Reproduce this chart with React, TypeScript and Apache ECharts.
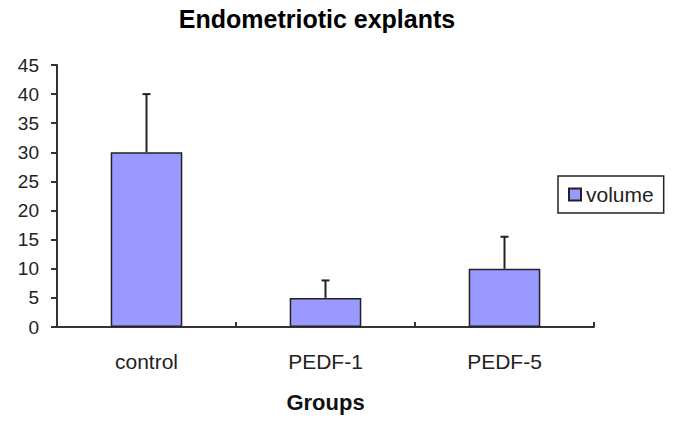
import React, { useEffect, useRef } from "react";
import * as echarts from "echarts";

const categories = ["control", "PEDF-1", "PEDF-5"];
const volume = [30, 5, 10];
const errorTop = [40, 8, 15.5];
const yTicks = { min: 0, max: 45, interval: 5 };

export default function App() {
  const ref = useRef<HTMLDivElement>(null);
  useEffect(() => {
    document.body.style.margin = "0";
    const chart = echarts.init(ref.current!, undefined, { renderer: "svg" });
    const font = "'Liberation Sans', Arial, sans-serif";
    chart.setOption({
      animation: false,
      backgroundColor: "#ffffff",
      title: {
        text: "Endometriotic explants",
        left: 312,
        textAlign: "center",
        top: 1,
        textStyle: { fontFamily: font, fontWeight: "bold", fontSize: 25, color: "#000" },
      },
      legend: {
        left: 558,
        top: 176,
        orient: "vertical",
        borderColor: "#222",
        borderWidth: 1.5,
        padding: [8, 10, 8, 10],
        itemWidth: 12,
        itemHeight: 12,
        itemGap: 4,
        icon: "rect",
        data: ["volume"],
        textStyle: { fontFamily: font, fontSize: 21, color: "#222", padding: [0, 0, 0, 0] },
      },
      grid: { left: 57, right: 84, top: 65, bottom: 96, containLabel: false },
      xAxis: {
        type: "category",
        data: categories,
        name: "Groups",
        nameLocation: "middle",
        nameGap: 64,
        nameTextStyle: { fontFamily: font, fontWeight: "bold", fontSize: 22, color: "#111" },
        axisLine: { lineStyle: { color: "#333", width: 2 } },
        axisTick: { show: true, inside: true, length: 5, alignWithLabel: false, lineStyle: { color: "#333", width: 2 } },
        axisLabel: { fontFamily: font, fontSize: 21, color: "#222", margin: 24 },
        splitLine: { show: false },
      },
      yAxis: {
        type: "value",
        min: yTicks.min,
        max: yTicks.max,
        interval: yTicks.interval,
        axisLine: { show: true, lineStyle: { color: "#333", width: 2 } },
        axisTick: { show: true, inside: false, length: 6, lineStyle: { color: "#333", width: 2 } },
        axisLabel: { fontFamily: font, fontSize: 19, color: "#222", margin: 18 },
        splitLine: { show: false },
      },
      series: [
        {
          name: "volume",
          type: "bar",
          data: volume,
          barWidth: "40%",
          itemStyle: { color: "#9999ff", borderColor: "#222", borderWidth: 1.5 },
          z: 2,
        },
        {
          name: "error",
          type: "custom",
          data: categories.map((_, i) => [i, volume[i], errorTop[i]]),
          encode: { x: 0, y: [1, 2] },
          z: 3,
          renderItem: (params: any, api: any) => {
            const x = api.value(0);
            const base = api.coord([x, api.value(1)]);
            const top = api.coord([x, api.value(2)]);
            const cap = 4;
            const style = { stroke: "#222", lineWidth: 2 };
            return {
              type: "group",
              children: [
                { type: "line", shape: { x1: base[0], y1: base[1], x2: top[0], y2: top[1] }, style },
                { type: "line", shape: { x1: top[0] - cap, y1: top[1], x2: top[0] + cap, y2: top[1] }, style },
              ],
            };
          },
          tooltip: { show: false },
        },
      ],
    });
    return () => chart.dispose();
  }, []);
  return <div ref={ref} style={{ width: 678, height: 423 }} />;
}
